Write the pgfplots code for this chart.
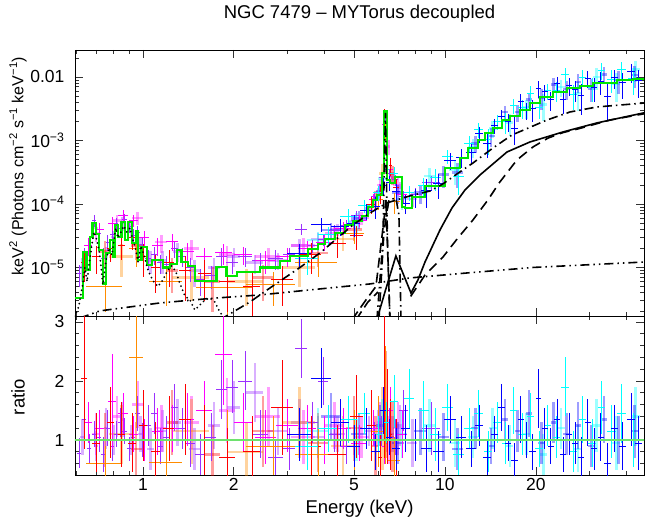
\documentclass[border=0pt]{standalone}
\usepackage{fontspec}
\setmainfont{Liberation Sans}
\usepackage{pgfplots}
\usepackage{pgfplotstable}
\pgfplotsset{compat=1.18}

\definecolor{cpur}{HTML}{9B30FF}
\definecolor{cmag}{HTML}{FF00FF}
\definecolor{cred}{HTML}{FF0000}
\definecolor{cora}{HTML}{FF8C00}
\definecolor{cblu}{HTML}{0000FF}
\definecolor{ccya}{HTML}{00FFFF}
\definecolor{cgrn}{HTML}{00E600}
\definecolor{crat}{RGB}{110,225,110}

\newcommand{\myfs}{\fontsize{18.5}{22}\selectfont}
\newcommand{\tkfs}{\fontsize{17.5}{21}\selectfont}
\newcommand{\ylfs}{\fontsize{16}{19}\selectfont}

\pgfplotsset{
  dat/.style={only marks, mark=*, mark size=0pt, mark options={draw=none, fill=none}, forget plot, error bars/.cd,
    x dir=both, x explicit, y dir=both, y explicit, error mark=none,
    error bar style={draw=#1, line width=0.7pt, solid}},
  datl/.style={only marks, mark=*, mark size=0pt, mark options={draw=none, fill=none}, forget plot, error bars/.cd,
    x dir=both, x explicit, y dir=both, y explicit, error mark=none,
    error bar style={draw=#1, line width=2.6pt, opacity=0.38, solid}},
}

\pgfplotstableread{
E dE F dF R dR
0.615 0.010 8.0e-6 3.0e-6 0.78 0.25
0.640 0.010 1.5e-5 5.0e-6 1.35 0.30
0.665 0.010 2.2e-5 6.0e-6 0.85 0.25
0.690 0.012 5.5e-5 1.2e-5 1.10 0.22
0.715 0.012 3.5e-5 9.0e-6 1.05 0.25
0.740 0.012 1.4e-5 6.0e-6 0.75 0.30
0.765 0.012 2.5e-5 7.0e-6 1.20 0.30
0.790 0.013 3.3e-5 8.0e-6 0.90 0.25
0.815 0.013 5.0e-5 1.1e-5 1.10 0.22
0.840 0.013 4.2e-5 1.0e-5 1.30 0.25
0.870 0.015 5.8e-5 1.2e-5 1.15 0.22
0.900 0.015 4.5e-5 1.0e-5 0.85 0.20
0.930 0.015 3.2e-5 8.0e-6 1.05 0.25
0.960 0.015 3.6e-5 9.0e-6 1.45 0.30
0.995 0.020 2.3e-5 6.0e-6 1.00 0.28
1.040 0.025 1.4e-5 5.0e-6 1.25 0.35
1.090 0.025 1.6e-5 5.0e-6 1.45 0.35
1.140 0.025 1.2e-5 4.0e-6 0.90 0.30
1.200 0.030 1.1e-5 4.0e-6 1.05 0.35
1.270 0.035 2.0e-5 6.0e-6 1.55 0.40
1.350 0.040 1.5e-5 5.0e-6 1.20 0.35
1.440 0.050 1.0e-5 4.0e-6 0.95 0.40
1.550 0.060 6.5e-6 3.0e-6 0.75 0.35
1.680 0.070 7.5e-6 3.0e-6 1.05 0.40
1.820 0.080 1.5e-5 5.0e-6 1.85 0.50
1.980 0.090 1.2e-5 4.0e-6 1.90 0.45
2.180 0.110 1.5e-5 5.0e-6 2.00 0.50
2.450 0.150 1.3e-5 4.0e-6 1.10 0.40
2.750 0.150 1.4e-5 5.0e-6 0.70 0.30
3.050 0.150 1.6e-5 4.0e-6 0.85 0.35
3.350 0.150 4.0e-5 8.0e-6 2.55 0.50
3.650 0.150 2.2e-5 5.0e-6 1.30 0.35
3.950 0.150 2.8e-5 6.0e-6 2.00 0.40
4.300 0.200 3.8e-5 8.0e-6 1.10 0.30
4.700 0.200 4.6e-5 9.0e-6 0.90 0.30
5.100 0.200 6.5e-5 1.2e-5 1.40 0.30
5.500 0.200 8.0e-5 1.4e-5 1.20 0.25
5.850 0.150 1.3e-4 2.0e-5 1.10 0.20
6.150 0.100 2.6e-4 5.0e-5 1.15 0.25
6.350 0.070 2.2e-3 3.0e-4 0.95 0.20
6.550 0.100 3.0e-4 5.0e-5 1.30 0.25
6.850 0.150 2.4e-4 5.0e-5 1.05 0.30
7.300 0.250 1.3e-4 3.0e-5 1.50 0.35
8.000 0.400 1.4e-4 4.0e-5 1.00 0.35
9.000 0.600 2.2e-4 6.0e-5 1.20 0.45
}\tpur

\pgfplotstableread{
E dE F dF R dR
0.630 0.010 1.0e-5 4.0e-6 1.05 0.30
0.700 0.012 4.2e-5 1.0e-5 0.90 0.25
0.755 0.012 1.5e-5 6.0e-6 1.20 0.35
0.800 0.013 3.0e-5 8.0e-6 1.00 0.25
0.855 0.014 5.0e-5 1.2e-5 1.35 0.30
0.915 0.015 4.0e-5 1.0e-5 1.00 0.25
0.980 0.020 2.2e-5 7.0e-6 1.10 0.30
1.060 0.030 1.3e-5 5.0e-6 0.85 0.35
1.160 0.035 1.3e-5 5.0e-6 1.15 0.35
1.300 0.040 1.8e-5 6.0e-6 1.30 0.40
1.480 0.060 9.0e-6 4.0e-6 0.85 0.35
1.720 0.080 1.0e-5 4.0e-6 1.25 0.40
2.000 0.100 1.5e-5 5.0e-6 1.55 0.45
2.350 0.150 1.2e-5 4.0e-6 1.80 0.50
2.800 0.200 1.3e-5 4.0e-6 1.15 0.40
3.300 0.200 2.2e-5 6.0e-6 1.30 0.40
3.800 0.200 2.8e-5 7.0e-6 1.05 0.35
4.400 0.250 4.0e-5 9.0e-6 1.10 0.30
5.000 0.200 5.2e-5 1.0e-5 1.00 0.25
5.600 0.200 8.5e-5 1.5e-5 1.15 0.25
6.000 0.100 1.5e-4 3.0e-5 1.20 0.30
6.400 0.050 2.5e-3 4.0e-4 1.05 0.25
6.700 0.100 2.6e-4 5.0e-5 1.10 0.30
7.100 0.150 1.8e-4 4.0e-5 1.25 0.35
7.800 0.300 1.2e-4 3.0e-5 0.95 0.40
}\tpurl

\pgfplotstableread{
E dE F dF R dR
0.660 0.020 2.2e-5 7.0e-6 1.30 0.35
0.720 0.025 4.0e-5 1.0e-5 1.20 0.30
0.790 0.025 5.0e-5 1.2e-5 1.65 0.80
0.860 0.030 6.5e-5 1.4e-5 1.45 0.35
0.930 0.030 5.5e-5 1.2e-5 1.10 0.30
1.010 0.040 3.0e-5 8.0e-6 1.00 0.35
1.120 0.050 2.2e-5 7.0e-6 1.15 0.40
1.250 0.060 2.6e-5 8.0e-6 1.20 0.40
1.400 0.080 1.8e-5 6.0e-6 1.35 0.45
1.600 0.100 1.5e-5 5.0e-6 1.50 0.50
1.850 0.120 1.7e-5 6.0e-6 2.45 0.85
2.150 0.150 1.6e-5 5.0e-6 1.30 0.50
2.550 0.200 1.3e-5 5.0e-6 1.05 0.45
3.000 0.250 1.5e-5 5.0e-6 1.25 0.45
3.500 0.250 2.0e-5 6.0e-6 1.20 0.40
4.000 0.250 2.5e-5 7.0e-6 1.00 0.40
4.600 0.300 4.2e-5 1.0e-5 1.20 0.35
5.200 0.300 5.5e-5 1.2e-5 0.95 0.30
5.800 0.200 1.2e-4 2.5e-5 1.20 0.30
6.300 0.100 1.8e-3 4.0e-4 0.90 0.30
6.600 0.150 3.5e-4 8.0e-5 1.50 0.40
7.200 0.300 1.4e-4 4.0e-5 1.10 0.40
}\tmag

\pgfplotstableread{
E dE F dF R dR
0.700 0.020 3.5e-5 1.0e-5 1.10 0.35
0.820 0.030 5.5e-5 1.3e-5 1.40 0.35
0.960 0.040 6.0e-5 1.4e-5 1.60 0.40
1.150 0.050 2.5e-5 8.0e-6 1.20 0.40
1.450 0.080 2.0e-5 7.0e-6 1.30 0.45
1.900 0.120 1.6e-5 6.0e-6 1.50 0.55
2.600 0.250 1.5e-5 5.0e-6 1.40 0.50
3.400 0.300 2.2e-5 7.0e-6 1.05 0.45
4.300 0.300 3.5e-5 9.0e-6 1.25 0.40
5.300 0.300 6.0e-5 1.4e-5 1.05 0.35
6.100 0.150 2.0e-4 5.0e-5 1.30 0.35
6.500 0.100 8.0e-4 2.0e-4 1.00 0.40
7.000 0.250 2.0e-4 6.0e-5 1.20 0.45
}\tmagl

\pgfplotstableread{
E dE F dF R dR
0.640 0.015 1.2e-5 6.0e-6 2.05 1.20
0.700 0.020 1.5e-5 7.0e-6 0.95 0.50
0.780 0.020 2.0e-5 8.0e-6 1.30 0.60
0.850 0.025 2.2e-5 9.0e-6 1.10 0.55
0.920 0.030 3.0e-5 1.1e-5 0.95 0.50
1.000 0.030 1.5e-5 8.0e-6 1.25 0.60
1.100 0.040 1.0e-5 6.0e-6 0.80 0.50
1.220 0.050 1.2e-5 7.0e-6 1.20 0.55
1.380 0.060 9.0e-6 6.0e-6 1.35 0.60
1.600 0.080 8.0e-6 5.0e-6 1.00 0.60
1.900 0.120 6.0e-6 4.0e-6 0.70 0.50
2.300 0.150 5.0e-6 3.5e-6 0.80 0.60
2.900 0.250 6.5e-6 4.0e-6 1.55 0.80
3.600 0.300 1.6e-5 8.0e-6 0.90 0.50
4.400 0.300 2.4e-5 1.0e-5 0.75 0.50
5.100 0.250 3.2e-5 1.3e-5 1.40 0.70
5.700 0.200 1.0e-4 3.0e-5 1.25 0.60
6.100 0.100 1.5e-4 5.0e-5 0.70 0.40
6.300 0.050 2.5e-3 6.0e-4 1.90 1.20
6.450 0.050 1.6e-3 5.0e-4 1.40 0.80
6.600 0.080 4.0e-4 1.2e-4 1.10 0.60
6.900 0.150 1.8e-4 7.0e-5 0.85 0.50
}\tred

\pgfplotstableread{
E dE F dF R dR
0.750 0.030 1.8e-5 8.0e-6 1.00 0.45
0.950 0.040 2.2e-5 9.0e-6 0.85 0.45
1.250 0.060 9.0e-6 5.0e-6 1.30 0.55
1.700 0.100 6.0e-6 4.0e-6 0.75 0.50
2.500 0.200 7.0e-6 4.0e-6 1.15 0.60
3.800 0.300 1.7e-5 7.0e-6 0.95 0.50
5.000 0.300 4.0e-5 1.4e-5 1.20 0.55
5.900 0.150 1.2e-4 4.0e-5 0.90 0.50
6.350 0.050 1.5e-3 5.0e-4 1.60 0.90
6.700 0.100 3.0e-4 1.0e-4 1.05 0.60
}\tredl

\pgfplotstableread{
E dE F dF R dR
0.750 0.100 5.0e-6 3.0e-6 0.60 0.30
0.950 0.050 2.0e-5 1.0e-5 2.40 1.20
1.200 0.150 6.0e-6 3.5e-6 0.62 0.40
1.900 0.400 4.8e-6 3.0e-6 1.00 0.50
2.700 0.500 5.5e-6 3.0e-6 0.90 0.50
3.800 0.600 1.2e-5 5.0e-6 0.75 0.45
5.000 0.400 3.5e-5 1.2e-5 1.00 0.50
6.000 0.250 1.2e-4 4.0e-5 1.15 0.60
6.350 0.060 1.5e-3 5.0e-4 1.60 1.00
6.800 0.300 1.1e-4 4.0e-5 0.65 0.40
}\tora

\pgfplotstableread{
E dE F dF R dR
0.850 0.080 1.5e-5 8.0e-6 1.10 0.50
1.450 0.200 7.0e-6 4.0e-6 1.15 0.55
2.200 0.300 6.0e-6 3.5e-6 0.80 0.50
3.300 0.400 1.0e-5 5.0e-6 1.30 0.60
4.600 0.400 2.8e-5 1.0e-5 0.90 0.50
6.200 0.150 3.0e-4 1.2e-4 1.20 0.70
}\toral

\pgfplotstableread{
E dE F dF R dR
3.30 0.30 1.67e-5 6.8e-6 1.10 0.45
3.90 0.30 4.80e-5 1.2e-5 2.05 0.50
4.50 0.30 4.50e-5 1.4e-5 1.30 0.40
5.00 0.25 4.90e-5 1.9e-5 0.90 0.35
5.50 0.25 7.80e-5 2.3e-5 1.20 0.35
5.90 0.20 9.30e-5 3.5e-5 0.80 0.30
6.25 0.15 2.00e-4 6.0e-5 1.50 0.40
6.55 0.15 2.20e-4 6.0e-5 1.05 0.30
6.90 0.20 1.60e-4 5.0e-5 0.85 0.35
7.40 0.25 1.04e-4 3.5e-5 1.20 0.40
8.00 0.30 1.30e-4 4.5e-5 1.00 0.35
8.70 0.35 1.65e-4 7.8e-5 0.85 0.40
9.50 0.40 2.10e-4 9.0e-5 0.80 0.35
10.4 0.45 4.90e-4 1.5e-4 1.35 0.40
11.3 0.45 5.50e-4 1.8e-4 1.05 0.35
12.2 0.45 6.40e-4 2.3e-4 0.85 0.30
13.0 0.40 1.28e-3 3.6e-4 1.25 0.35
13.8 0.40 9.10e-4 3.9e-4 0.70 0.30
14.6 0.40 1.72e-3 4.7e-4 1.10 0.30
15.4 0.40 2.42e-3 6.2e-4 1.55 0.40
16.2 0.40 2.00e-3 6.3e-4 0.95 0.30
17.0 0.40 1.58e-3 7.3e-4 0.65 0.30
17.8 0.40 4.10e-3 1.2e-3 1.35 0.40
18.6 0.40 3.00e-3 9.0e-4 1.00 0.30
19.5 0.45 3.15e-3 1.2e-3 0.80 0.30
20.4 0.45 6.70e-3 2.0e-3 1.70 0.50
21.4 0.50 5.90e-3 1.7e-3 1.20 0.35
22.4 0.50 4.40e-3 1.5e-3 0.90 0.30
23.5 0.55 7.90e-3 2.1e-3 1.35 0.35
24.6 0.55 4.40e-3 1.8e-3 0.75 0.30
25.8 0.60 7.30e-3 2.3e-3 1.10 0.35
27.0 0.60 6.30e-3 2.3e-3 0.95 0.35
28.3 0.65 5.10e-3 2.6e-3 0.70 0.35
29.7 0.70 9.50e-3 2.9e-3 1.30 0.40
31.2 0.75 6.90e-3 2.8e-3 0.85 0.35
32.8 0.80 8.50e-3 3.3e-3 1.05 0.40
34.5 0.85 4.90e-3 2.8e-3 0.60 0.35
36.5 1.00 9.80e-3 3.3e-3 1.20 0.40
38.8 1.10 8.10e-3 3.6e-3 0.90 0.40
41.3 1.30 1.21e-2 4.0e-3 1.35 0.45
43.8 1.20 8.90e-3 4.2e-3 0.95 0.45
}\tblu

\pgfplotstableread{
E dE F dF R dR
4.2 0.30 3.9e-5 1.1e-5 1.40 0.40
5.2 0.30 5.9e-5 1.9e-5 1.10 0.35
6.1 0.20 1.6e-4 5.0e-5 1.25 0.35
7.0 0.30 1.5e-4 5.0e-5 0.95 0.35
8.3 0.40 1.5e-4 5.0e-5 1.15 0.40
9.9 0.45 2.9e-4 1.1e-4 1.05 0.40
11.0 0.45 3.1e-4 1.3e-4 0.85 0.35
12.6 0.40 9.0e-4 2.6e-4 1.20 0.35
14.2 0.40 1.17e-3 3.9e-4 0.90 0.30
15.8 0.40 2.8e-3 7.4e-4 1.35 0.35
17.4 0.40 2.8e-3 8.5e-4 1.15 0.35
19.0 0.45 4.4e-3 1.2e-3 1.45 0.40
20.9 0.50 4.7e-3 1.7e-3 0.95 0.35
22.9 0.50 7.6e-3 2.1e-3 1.30 0.35
25.2 0.60 6.5e-3 2.1e-3 1.10 0.35
27.6 0.60 8.3e-3 2.7e-3 1.25 0.40
30.4 0.70 6.6e-3 2.6e-3 0.90 0.35
33.6 0.80 1.1e-2 3.3e-3 1.35 0.40
37.6 1.00 9.0e-3 3.6e-3 1.00 0.40
42.5 1.30 1.08e-2 4.2e-3 1.15 0.45
}\tblul

\pgfplotstableread{
E dE F dF R dR
3.5 0.30 1.37e-5 6.0e-6 0.90 0.40
4.1 0.30 3.3e-5 1.1e-5 1.20 0.40
4.8 0.30 6.3e-5 1.9e-5 1.35 0.40
5.4 0.25 9.4e-5 2.3e-5 1.45 0.35
6.0 0.20 1.5e-4 4.0e-5 1.10 0.30
6.4 0.15 3.5e-4 1.0e-4 1.30 0.35
6.8 0.20 3.0e-4 8.0e-5 1.65 0.45
7.6 0.30 1.5e-4 4.0e-5 1.70 0.50
8.5 0.35 1.95e-4 6.5e-5 1.50 0.50
9.3 0.40 2.6e-4 1.0e-4 1.10 0.45
10.2 0.45 5.7e-4 1.5e-4 1.55 0.40
11.1 0.45 2.7e-4 1.3e-4 0.75 0.35
12.0 0.45 9.0e-4 2.6e-4 1.20 0.35
12.9 0.45 1.48e-3 4.0e-4 1.45 0.40
13.9 0.45 1.04e-3 4.5e-4 0.80 0.35
14.9 0.45 2.0e-3 5.5e-4 1.30 0.35
15.9 0.45 2.0e-3 7.4e-4 0.95 0.35
16.9 0.45 3.6e-3 9.7e-4 1.50 0.40
18.0 0.50 3.3e-3 1.1e-3 1.10 0.35
19.2 0.55 5.5e-3 1.6e-3 1.40 0.40
20.5 0.60 3.35e-3 1.2e-3 0.85 0.30
21.9 0.60 6.1e-3 1.7e-3 1.25 0.35
23.4 0.65 6.2e-3 2.1e-3 1.05 0.35
25.0 0.70 1.1e-2 2.9e-3 1.90 0.50
26.7 0.75 5.3e-3 2.3e-3 0.80 0.35
28.6 0.80 9.9e-3 2.9e-3 1.35 0.40
30.7 0.90 6.9e-3 2.9e-3 0.95 0.40
33.0 1.00 1.26e-2 3.7e-3 1.55 0.45
35.6 1.10 9.3e-3 3.7e-3 1.15 0.45
38.5 1.30 1.3e-2 4.5e-3 1.45 0.50
42.0 1.50 9.4e-3 4.2e-3 1.00 0.45
}\tcya

\pgfplotstableread{
E dE F dF R dR
3.8 0.30 2.7e-5 9.0e-6 1.15 0.40
5.1 0.30 5.4e-5 1.9e-5 1.00 0.35
6.2 0.20 2.5e-4 6.0e-5 1.35 0.35
7.2 0.30 1.2e-4 4.0e-5 1.10 0.40
8.9 0.40 2.75e-4 1.0e-4 1.25 0.45
10.8 0.45 3.5e-4 1.5e-4 0.95 0.40
12.4 0.45 7.9e-4 2.6e-4 1.05 0.35
14.4 0.45 1.56e-3 4.6e-4 1.20 0.35
16.4 0.45 1.9e-3 7.4e-4 0.90 0.35
18.6 0.50 3.3e-3 1.1e-3 1.10 0.35
21.2 0.60 3.7e-3 1.7e-3 0.75 0.35
24.2 0.70 7.0e-3 2.1e-3 1.20 0.35
27.6 0.80 5.6e-3 2.7e-3 0.85 0.40
31.8 0.90 1.0e-2 3.7e-3 1.25 0.45
36.9 1.20 7.7e-3 3.7e-3 0.95 0.45
42.8 1.50 1.3e-2 4.7e-3 1.40 0.50
}\tcyal

\begin{document}
\begin{tikzpicture}
\useasboundingbox (-75pt,-211pt) rectangle (572pt,316pt);

% ---------------- top panel ----------------
\begin{axis}[scale only axis, width=569pt, height=266pt,
  at={(0pt,0pt)}, anchor=south west,
  xmode=log, ymode=log,
  xmin=0.596, xmax=45.6, ymin=1.72e-6, ymax=0.0266,
  tick align=inside, xtick pos=both, ytick pos=both,
  major tick length=8pt, minor tick length=4pt,
  axis line style={line width=0.8pt},
  every tick/.style={line width=0.7pt, black!80},
  xtick={1,2,5,10,20},
  minor xtick={0.6,0.7,0.8,0.9,3,4,6,7,8,9,30,40},
  xticklabels={},
  ytick={1e-5,1e-4,1e-3,1e-2},
  yticklabels={10\textsuperscript{−5},10\textsuperscript{−4},10\textsuperscript{−3},0.01},
  yticklabel style={font=\tkfs, xshift=-7pt},
  minor ytick={2e-6,3e-6,4e-6,5e-6,6e-6,7e-6,8e-6,9e-6,2e-5,3e-5,4e-5,5e-5,6e-5,7e-5,8e-5,9e-5,2e-4,3e-4,4e-4,5e-4,6e-4,7e-4,8e-4,9e-4,2e-3,3e-3,4e-3,5e-3,6e-3,7e-3,8e-3,9e-3,2e-2},
  ylabel={keV\textsuperscript{2} (Photons cm\textsuperscript{−2} s\textsuperscript{−1} keV\textsuperscript{−1})},
  ylabel style={font=\ylfs, at={(axis description cs:-0.1,0.564)}, anchor=center},
  title={NGC 7479 – MYTorus decoupled},
  every axis title/.style={font=\myfs, at={(axis description cs:0.5,1.135)}, anchor=center},
]
\addplot[datl=cpur] table[x=E,y=F,x error=dE,y error=dF] {\tpurl};
\addplot[datl=cmag] table[x=E,y=F,x error=dE,y error=dF] {\tmagl};
\addplot[datl=cred] table[x=E,y=F,x error=dE,y error=dF] {\tredl};
\addplot[datl=cora] table[x=E,y=F,x error=dE,y error=dF] {\toral};
\addplot[datl=ccya] table[x=E,y=F,x error=dE,y error=dF] {\tcyal};
\addplot[datl=cblu] table[x=E,y=F,x error=dE,y error=dF] {\tblul};
\addplot[dat=cpur] table[x=E,y=F,x error=dE,y error=dF] {\tpur};
\addplot[dat=cmag] table[x=E,y=F,x error=dE,y error=dF] {\tmag};
\addplot[dat=cora] table[x=E,y=F,x error=dE,y error=dF] {\tora};
\addplot[dat=cred] table[x=E,y=F,x error=dE,y error=dF] {\tred};
\addplot[dat=ccya] table[x=E,y=F,x error=dE,y error=dF] {\tcya};
\addplot[dat=cblu] table[x=E,y=F,x error=dE,y error=dF] {\tblu};

\addplot[cgrn, line width=2.2pt, const plot, mark=none, forget plot] table {
0.596 3.27e-6
0.634 1.73e-5
0.651 9.1e-6
0.668 3.05e-5
0.681 5.08e-5
0.699 3.33e-5
0.717 1.89e-5
0.739 5.6e-6
0.754 1.69e-5
0.777 2.71e-5
0.797 1.46e-5
0.808 4.67e-5
0.828 3.02e-5
0.850 5.21e-5
0.872 2.71e-5
0.894 5.21e-5
0.918 2.43e-5
0.953 3.76e-5
0.965 1.31e-5
0.990 2.10e-5
1.033 1.09e-5
1.069 1.31e-5
1.167 1.00e-5
1.228 1.13e-5
1.293 1.89e-5
1.343 1.22e-5
1.413 1.06e-5
1.486 6.12e-6
1.754 1.02e-5
1.893 7.35e-6
2.043 8.5e-6
2.440 1.0e-5
2.842 1.27e-5
3.067 1.52e-5
3.519 1.95e-5
3.798 2.34e-5
4.006 2.78e-5
4.323 3.46e-5
4.667 4.67e-5
4.960 5.4e-5
5.300 6.47e-5
5.572 9.06e-5
5.776 1.16e-4
5.941 1.39e-4
6.171 3.04e-4
6.281 2.85e-3
6.412 2.39e-4
6.575 2.12e-4
6.830 2.63e-4
7.189 9.06e-5
7.372 8.65e-5
7.756 1.30e-4
8.587 1.94e-4
10.0 3.65e-4
11.21 5.25e-4
11.92 7.54e-4
12.86 1.02e-3
13.57 1.30e-3
14.42 1.56e-3
15.45 2.10e-3
16.41 2.43e-3
17.71 3.02e-3
19.12 3.94e-3
20.64 4.90e-3
22.79 5.87e-3
25.35 6.64e-3
27.99 7.30e-3
30.91 8.13e-3
37.11 8.97e-3
41.94 9.40e-3
46.0 9.40e-3
};

\addplot[black, line width=2pt, mark=none, forget plot, line cap=round, dash pattern=on 0pt off 4.5pt] table {
0.596 1.7e-6
0.614 2.48e-6
0.633 5.6e-6
0.643 1.0e-5
0.653 6.0e-6
0.663 1.09e-5
0.678 2.26e-5
0.688 3.62e-5
0.704 2.71e-5
0.720 1.57e-5
0.737 5.4e-6
0.754 1.22e-5
0.772 2.03e-5
0.790 1.57e-5
0.802 2.71e-5
0.814 4.19e-5
0.826 2.92e-5
0.846 3.62e-5
0.865 4.5e-5
0.885 3.62e-5
0.906 4.19e-5
0.927 2.71e-5
0.948 1.89e-5
0.963 1.22e-5
0.985 2.18e-5
1.008 1.57e-5
1.039 9.1e-6
1.079 6.2e-6
1.121 5.0e-6
1.165 6.36e-6
1.210 9.1e-6
1.247 1.06e-5
1.286 8.5e-6
1.326 5.6e-6
1.378 3.56e-6
1.431 3.08e-6
1.486 2.14e-6
1.544 2.57e-6
1.604 3.08e-6
1.667 3.31e-6
1.731 2.86e-6
1.799 1.99e-6
1.854 1.6e-6
};

\addplot[black, line width=1.6pt, mark=none, forget plot, dash pattern=on 9pt off 4pt on 1.5pt off 4pt] table {
1.80 1.5e-6
2.261 2.86e-6
2.634 4.75e-6
3.311 1.0e-5
3.856 1.69e-5
4.960 4.67e-5
5.645 7.21e-5
6.425 1.04e-4
7.66 1.34e-4
8.92 1.60e-4
9.85 2.07e-4
10.96 2.97e-4
12.38 4.42e-4
14.42 7.62e-4
16.67 1.22e-3
21.77 2.10e-3
25.94 2.81e-3
31.87 3.37e-3
46.0 3.9e-3
};

\addplot[black, line width=1.6pt, mark=none, forget plot, dash pattern=on 9pt off 4pt on 1.5pt off 4pt on 1.5pt off 4pt] table {
0.619 1.6e-6
0.720 2.07e-6
0.906 2.39e-6
1.138 2.76e-6
1.667 3.25e-6
2.440 3.69e-6
3.573 4.43e-6
5.645 5.5e-6
7.66 6.84e-6
11.83 8.19e-6
19.56 1.0e-5
46.0 1.22e-5
};

\addplot[black, line width=1.6pt, mark=none, forget plot] table {
5.95 1.5e-6
6.33 4.11e-6
6.88 1.52e-5
7.72 3.96e-6
8.14 6.36e-6
8.59 1.22e-5
9.63 3.9e-5
10.55 8.65e-5
11.65 1.66e-4
13.06 2.86e-4
16.05 6.59e-4
19.12 9.47e-4
24.58 1.36e-3
31.87 1.89e-3
46.0 2.75e-3
};

\addplot[black, line width=1.6pt, mark=none, forget plot, dash pattern=on 10pt off 6pt] table {
7.70 3.5e-6
8.59 7.62e-6
9.85 1.46e-5
11.04 2.92e-5
12.38 5.6e-5
13.88 1.16e-4
15.2 2.22e-4
17.31 4.93e-4
19.56 7.9e-4
21.94 1.09e-3
24.58 1.33e-3
27.99 1.55e-3
35.19 2.1e-3
46.0 2.65e-3
};

\addplot[black, line width=1.6pt, mark=none, forget plot, dash pattern=on 9pt off 4pt on 1.5pt off 4pt] table {
5.954 1.5e-6
6.232 2.71e-5
6.353 2.71e-3
6.451 2.71e-5
6.575 1.5e-6
};
\addplot[black, line width=1.6pt, mark=none, forget plot, dash pattern=on 9pt off 4pt on 1.5pt off 4pt] table {
6.046 1.5e-6
6.281 3.62e-5
6.525 1.16e-4
6.88 1.24e-4
7.043 6.71e-5
7.152 1.5e-6
};
\addplot[black, line width=1.6pt, mark=none, forget plot, dash pattern=on 10pt off 5pt] table {
4.922 1.5e-6
5.476 3.08e-6
5.908 5.0e-6
6.281 5.6e-5
6.377 1.16e-4
6.476 1.31e-5
6.575 1.5e-6
};
\addplot[black, line width=1.6pt, mark=none, forget plot, dash pattern=on 10pt off 5pt] table {
5.074 1.5e-6
5.559 2.86e-6
5.998 4.11e-6
};
\end{axis}

% ---------------- ratio panel ----------------
\begin{axis}[scale only axis, width=569pt, height=159pt,
  at={(0pt,0pt)}, anchor=north west,
  xmode=log,
  xmin=0.596, xmax=45.6, ymin=0.407, ymax=3.10,
  tick align=inside, xtick pos=both, ytick pos=both,
  major tick length=8pt, minor tick length=4pt,
  axis line style={line width=0.8pt},
  every tick/.style={line width=0.7pt, black!80},
  xtick={1,2,5,10,20},
  minor xtick={0.6,0.7,0.8,0.9,3,4,6,7,8,9,30,40},
  xticklabels={1,2,5,10,20},
  xticklabel style={font=\tkfs},
  ytick={1,2,3}, yticklabels={1,2,3},
  yticklabel style={font=\tkfs, xshift=-7pt},
  minor ytick={0.6,0.8,1.2,1.4,1.6,1.8,2.2,2.4,2.6,2.8},
  xlabel={Energy (keV)},
  xlabel style={font=\myfs, at={(axis description cs:0.5,-0.214)}, anchor=center},
  ylabel={ratio},
  ylabel style={font=\myfs, at={(axis description cs:-0.1,0.49)}, anchor=center},
]
\addplot[datl=cpur] table[x=E,y=R,x error=dE,y error=dR] {\tpurl};
\addplot[datl=cmag] table[x=E,y=R,x error=dE,y error=dR] {\tmagl};
\addplot[datl=cred] table[x=E,y=R,x error=dE,y error=dR] {\tredl};
\addplot[datl=cora] table[x=E,y=R,x error=dE,y error=dR] {\toral};
\addplot[datl=ccya] table[x=E,y=R,x error=dE,y error=dR] {\tcyal};
\addplot[datl=cblu] table[x=E,y=R,x error=dE,y error=dR] {\tblul};
\addplot[dat=cpur] table[x=E,y=R,x error=dE,y error=dR] {\tpur};
\addplot[dat=cmag] table[x=E,y=R,x error=dE,y error=dR] {\tmag};
\addplot[dat=cora] table[x=E,y=R,x error=dE,y error=dR] {\tora};
\addplot[dat=cred] table[x=E,y=R,x error=dE,y error=dR] {\tred};
\addplot[dat=ccya] table[x=E,y=R,x error=dE,y error=dR] {\tcya};
\addplot[dat=cblu] table[x=E,y=R,x error=dE,y error=dR] {\tblu};
\addplot[crat, line width=1.6pt, mark=none, forget plot] coordinates {(0.5,1) (50,1)};
\end{axis}
\end{tikzpicture}
\end{document}
